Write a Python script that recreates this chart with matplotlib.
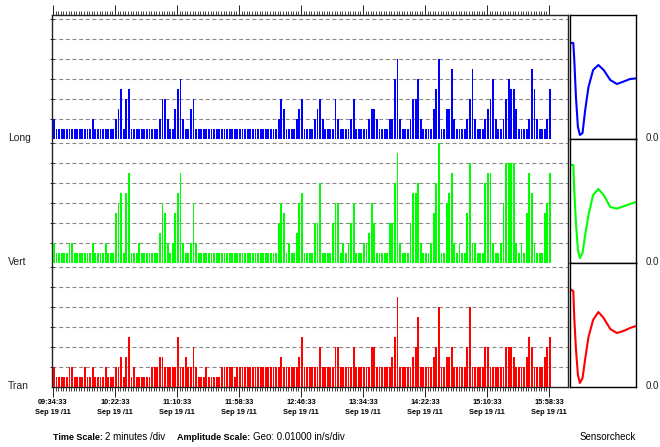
import numpy as np
import matplotlib.pyplot as plt
from matplotlib.ticker import FixedLocator, NullFormatter

plt.rcParams['font.family'] = ['Liberation Sans', 'DejaVu Sans']

# ── DATA ──────────────────────────────────────────────────────────
# one bar every 2 minutes, minutes after 09:34:33
bar_min = np.arange(0, 386, 2)

# bar heights in half divisions (1 = 0.5 div), 24 bars per 48 minute block
long_vals = [2,1,1,1,1,1,1,1,1,1,1,1,1,1,1,2,1,1,1,1,1,1,1,1,
             2,3,5,1,4,5,1,1,1,1,1,1,1,1,1,1,1,2,4,4,2,1,1,3,
             5,6,2,1,1,3,4,1,1,1,1,1,1,1,1,1,1,1,1,1,1,1,1,1,
             1,1,1,1,1,1,1,1,1,1,1,1,1,1,1,2,4,3,1,1,1,1,2,3,
             4,1,1,1,1,2,3,4,2,1,1,1,1,4,2,1,1,1,1,2,4,1,1,1,
             1,1,2,3,3,2,1,1,1,1,2,2,6,8,2,1,1,1,2,4,4,6,2,1,
             1,1,1,3,5,8,1,1,3,3,7,2,1,1,1,1,2,4,7,2,1,1,1,2,
             3,4,6,2,1,1,2,4,6,5,5,3,1,1,1,1,2,7,5,2,1,1,1,2,
             5]
vert_vals = [2,1,1,1,1,1,2,2,1,1,1,1,1,1,1,2,1,1,1,1,2,1,1,1,
             5,6,7,1,7,9,1,1,1,2,1,1,1,1,1,1,1,3,6,5,2,1,2,5,
             7,9,2,1,1,2,6,2,1,1,1,1,1,1,1,1,1,1,1,1,1,1,1,1,
             1,1,1,1,1,1,1,1,1,1,1,1,1,1,1,4,6,5,1,2,1,1,3,6,
             7,1,1,1,1,4,4,8,1,1,1,1,4,6,6,1,2,1,2,4,6,1,1,1,
             2,2,3,6,4,1,1,1,1,1,4,4,8,11,2,1,1,1,4,7,7,8,2,1,
             1,1,2,5,8,12,1,1,6,7,9,2,1,2,1,1,5,10,2,2,1,1,1,8,
             9,9,2,1,1,2,6,10,10,10,10,2,1,2,1,5,9,7,2,1,1,1,5,6,
             9]
tran_vals = [2,1,1,1,1,1,2,2,1,1,1,1,2,1,1,2,1,1,1,1,2,1,1,1,
             2,2,3,1,3,5,1,2,1,1,1,1,1,1,2,2,2,3,3,2,2,2,2,2,
             5,2,2,3,2,2,4,2,1,1,1,2,1,1,1,1,1,2,2,2,2,2,1,2,
             2,2,2,2,2,2,2,2,2,2,2,2,2,2,2,2,3,2,2,2,2,2,2,3,
             5,2,2,2,2,2,2,4,2,2,2,2,2,4,4,2,2,2,2,2,4,2,2,2,
             2,2,2,4,4,2,2,2,2,2,2,3,5,9,2,2,2,2,2,3,4,7,2,2,
             2,2,2,3,4,8,2,2,3,3,4,2,2,2,2,2,4,8,2,2,2,2,2,4,
             4,2,2,2,2,2,2,4,4,4,3,2,2,2,2,3,5,4,2,2,2,2,3,4,
             5]

tick_min = [0, 48, 96, 144, 192, 240, 288, 336, 384]
tick_time = ["09:34:33", "10:22:33", "11:10:33", "11:58:33", "12:46:33",
             "13:34:33", "14:22:33", "15:10:33", "15:58:33"]
tick_date = "Sep 19 /11"

# sensor check waveforms (fraction of box width, divisions)
wave_t = [0.02, 0.05, 0.065, 0.09, 0.12, 0.15, 0.19, 0.23, 0.28,
          0.35, 0.43, 0.51, 0.61, 0.71, 0.81, 0.91, 1.0]
long_wave = [4.8, 4.8, 3.95, 2.1, 0.6, 0.2, 0.3, 1.45, 2.6,
             3.45, 3.7, 3.45, 2.95, 2.75, 2.87, 3.0, 3.03]
vert_wave = [4.9, 4.9, 3.6, 2.0, 0.65, 0.25, 0.5, 1.4, 2.4,
             3.4, 3.7, 3.4, 2.8, 2.72, 2.83, 2.95, 3.05]
tran_wave = [4.85, 4.8, 3.45, 1.9, 0.6, 0.2, 0.45, 1.4, 2.5,
             3.35, 3.75, 3.45, 2.9, 2.7, 2.8, 2.95, 3.05]

channels = [("Long", long_vals, long_wave, "#0000ff"),
            ("Vert", vert_vals, vert_wave, "#00ff00"),
            ("Tran", tran_vals, tran_wave, "#ff0000")]

# ── LAYOUT (pixels) ───────────────────────────────────────────────
W, H = 660, 447
PH = 124            # panel height in px, 20 px per division
TOP = 15
PX = 496 / 384      # px per minute
ND = 6.2            # divisions per panel

fig = plt.figure(figsize=(W/100, H/100), dpi=100)
ax = fig.add_axes([52/W, 1-(TOP+3*PH)/H, 516/W, 3*PH/H])
ax.set_xlim(-1/PX, 515/PX)
ax.set_ylim(0, 3*ND)

grid_y = []
for k, (name, vals, wave, col) in enumerate(channels):
    base = (2-k)*ND
    ax.bar(bar_min+0.75, np.array(vals)*0.5, width=1.45, bottom=base,
           color=col, linewidth=0, zorder=3)
    for g in range(1, 7):
        grid_y.append(base+g)
        ax.axhline(base+g, color="#888888", lw=0.8, ls=(0, (3.6, 2.4)), zorder=1)

    base_px = TOP + (k+1)*PH
    fig.text(8/W, 1-(base_px-1)/H, name, fontsize=7.5, va="center", color="#222222")
    fig.text(646/W, 1-(base_px-1)/H, "0.0", fontsize=7, va="center", color="#222222")

    # sensor check box
    wa = fig.add_axes([570/W, 1-base_px/H, 66/W, PH/H])
    wa.plot(wave_t, wave, color=col, lw=1.5)
    wa.set_xlim(0, 1); wa.set_ylim(0, ND)
    wa.set_xticks([]); wa.set_yticks([])
    for s in wa.spines.values():
        s.set_linewidth(1.0)

ax.xaxis.set_major_locator(FixedLocator(tick_min))
ax.xaxis.set_minor_locator(FixedLocator(list(range(0, 386, 2))))
ax.set_xticklabels([f"{t}\n{tick_date}" for t in tick_time],
                   fontsize=5.3, fontweight="bold", linespacing=1.6)
ax.xaxis.set_minor_formatter(NullFormatter())
ax.tick_params(axis="x", which="major", top=True, direction="out", length=7.5,
               width=0.7, pad=1.5, color="#222222")
ax.tick_params(axis="x", which="minor", top=True, direction="out", length=3,
               width=0.6, color="#222222")
ax.set_yticks(grid_y)
ax.set_yticklabels([])
ax.tick_params(axis="y", direction="inout", length=3, width=0.7, color="#222222")
for s in ax.spines.values():
    s.set_linewidth(1.0)
    s.set_color("#222222")

# ── FOOTER ────────────────────────────────────────────────────────
fy = 1-437/H
fig.text(53/W, fy, "Time Scale:", fontsize=6.5, fontweight="bold", va="center")
fig.text(105/W, fy, "2 minutes /div", fontsize=7.0, va="center")
fig.text(177/W, fy, "Amplitude Scale:", fontsize=6.5, fontweight="bold", va="center")
fig.text(253/W, fy, "Geo: 0.01000 in/s/div", fontsize=7.0, va="center")
fig.text(636/W, fy, "Sensorcheck", fontsize=7.0, va="center", ha="right")

fig.savefig("out.png", dpi=100)
